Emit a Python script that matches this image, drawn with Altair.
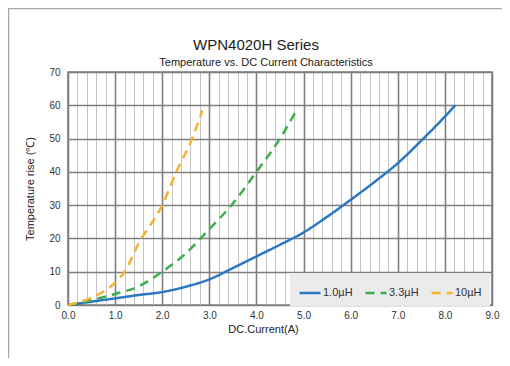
import altair as alt
import pandas as pd

series_names = ["1.0µH", "3.3µH", "10µH"]
series_colors = ["#2b78c2", "#3bb04a", "#f8b232"]

x_1 = [0, 0.5, 1.0, 1.5, 2.0, 2.5, 3.0, 3.5, 4.0, 4.5, 5.0, 5.5, 6.0, 6.5, 7.0, 7.5, 8.0, 8.22]
y_1 = [0, 1.0, 2.0, 3.0, 3.9, 5.5, 7.7, 11.1, 14.6, 18.1, 21.8, 26.5, 31.6, 36.9, 42.6, 49.4, 56.6, 60.0]

x_3 = [0, 0.5, 1.0, 1.5, 2.0, 2.5, 3.0, 3.5, 4.0, 4.5, 4.85]
y_3 = [0, 1.5, 3.3, 5.6, 10.0, 15.5, 22.8, 30.5, 40.0, 50.0, 58.5]

x_10 = [0, 0.5, 1.0, 1.2, 1.5, 2.0, 2.3, 2.65, 2.85]
y_10 = [0, 2.2, 6.7, 10.0, 18.5, 30.0, 40.0, 50.5, 58.5]

x_grid = [round(i * 0.2, 1) for i in range(46)]
y_ticks = [0, 10, 20, 30, 40, 50, 60, 70]

title_text = "WPN4020H Series"
subtitle_text = "Temperature vs. DC Current Characteristics"

rows = []
for name, xs, ys in [(series_names[0], x_1, y_1), (series_names[1], x_3, y_3), (series_names[2], x_10, y_10)]:
    for i, (a, b) in enumerate(zip(xs, ys)):
        rows.append({"series": name, "current": a, "temp": b, "order": i})
df = pd.DataFrame(rows)

FONT = "Liberation Sans"

leg = alt.Legend(
    title=None, orient="none", legendX=222, legendY=201, direction="horizontal",
    fillColor="#ebebeb", padding=8, symbolType="stroke", symbolSize=441,
    symbolStrokeWidth=2.5, labelFontSize=11, labelFont=FONT, labelColor="#333333",
    columnPadding=7, labelOffset=1,
)

lines = alt.Chart(df).mark_line(strokeWidth=2.5, interpolate="monotone").encode(
    x=alt.X("current:Q", scale=alt.Scale(domain=[0, 9], nice=False),
            axis=alt.Axis(values=x_grid, ticks=False, domain=False,
                          labelExpr="datum.value % 1 === 0 ? format(datum.value, '.1f') : ''",
                          gridColor={"condition": {"test": "datum.value % 1 === 0", "value": "#7f7f7f"}, "value": "#c4c4c4"},
                          gridWidth={"condition": {"test": "datum.value % 1 === 0", "value": 1.6}, "value": 1},
                          title="DC.Current(A)", titleX=195, titlePadding=3, labelPadding=5,
                          labelFlush=False, labelOverlap=False)),
    y=alt.Y("temp:Q", scale=alt.Scale(domain=[0, 70], nice=False),
            axis=alt.Axis(values=y_ticks, ticks=False, domain=False, gridColor="#7f7f7f", gridWidth=1.6,
                          title="Temperature rise (℃)", labelPadding=8, titlePadding=13, format="d")),
    color=alt.Color("series:N", sort=series_names, scale=alt.Scale(domain=series_names, range=series_colors), legend=leg),
    strokeDash=alt.StrokeDash("series:N", sort=series_names,
                              scale=alt.Scale(domain=series_names, range=[[1, 0], [9, 6], [9, 6]]), legend=leg),
    order="order:Q",
)

one = pd.DataFrame({"a": [0]})
frame = alt.Chart(one).mark_rect(fill="transparent", stroke="#a6a6a6", strokeWidth=1.5).encode(
    x=alt.value(-59.5), x2=alt.value(470), y=alt.value(-63.5), y2=alt.value(330)
)
title = alt.Chart(one).mark_text(font=FONT, fontSize=15, color="#222222", baseline="alphabetic").encode(
    x=alt.value(188), y=alt.value(-22), text=alt.value(title_text)
)
subtitle = alt.Chart(one).mark_text(font=FONT, fontSize=11, color="#222222", baseline="alphabetic").encode(
    x=alt.value(198), y=alt.value(-6), text=alt.value(subtitle_text)
)

chart = alt.layer(frame, lines, title, subtitle).properties(
    width=424, height=233,
    autosize=alt.AutoSizeParams(type="none"),
    padding={"left": 60, "top": 64, "right": 10, "bottom": 53},
    background="white",
).configure_view(stroke="#7f7f7f", strokeWidth=1.6).configure_axis(
    labelFont=FONT, labelFontSize=10, labelColor="#333333",
    titleFont=FONT, titleFontSize=11, titleFontWeight="normal", titleColor="#222222",
)

chart.save("out.html", embed_options={"renderer": "svg", "actions": False})
